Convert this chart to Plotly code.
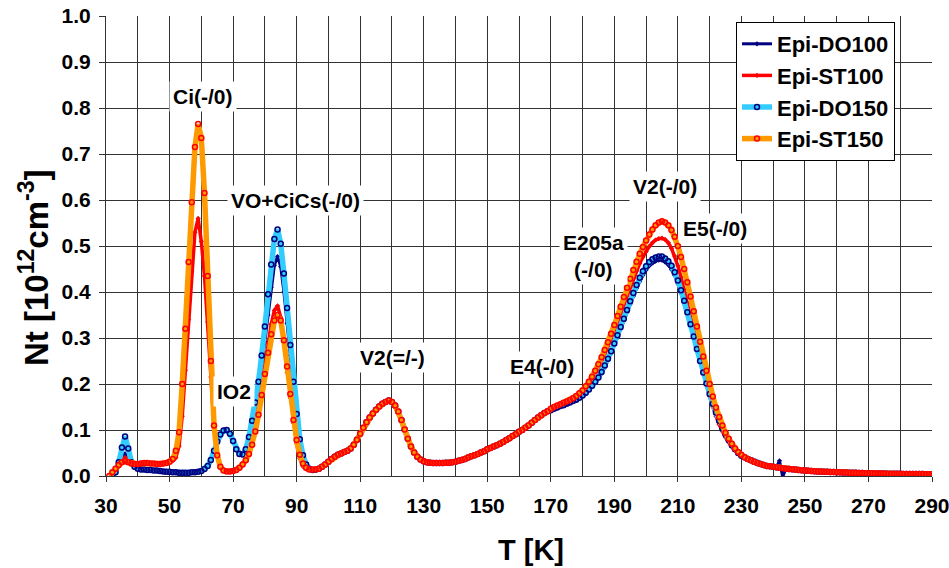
import plotly.graph_objects as go

# Temperature grid [K]
T_LOW = list(range(31, 96))
T_MID = list(range(96, 170))
T_PEAK = list(range(170, 231))
T_TAIL = list(range(231, 291))
T = T_LOW + T_MID + T_PEAK + T_TAIL

# ---- Nt [1e12 cm^-3], 31..95 K (Ci, IO2, VO+CiCs region) ----
do100_low = [None, 0.000, 0.008, 0.020, 0.038, 0.048, 0.040, 0.025, 0.018, 0.015,
             0.014, 0.014, 0.013, 0.013, 0.012, 0.012, 0.011, 0.010, 0.009, 0.009,
             0.008, 0.008, 0.007, 0.007, 0.007, 0.007, 0.008, 0.008, 0.009, 0.011,
             0.015, 0.022, 0.035, 0.055, 0.075, 0.090, 0.099, 0.100, 0.092, 0.076,
             0.058, 0.048, 0.047, 0.057, 0.083, 0.115, 0.150, 0.190, 0.238, 0.292,
             0.350, 0.410, 0.458, 0.477, 0.455, 0.400, 0.332, 0.262, 0.190, 0.126,
             0.076, 0.043, 0.024, 0.015, 0.012]
st100_low = [None, 0.005, 0.014, 0.025, 0.035, 0.040, 0.036, 0.029, 0.026, 0.026,
             0.028, 0.029, 0.029, 0.028, 0.027, 0.026, 0.026, 0.026, 0.027, 0.029,
             0.033, 0.040, 0.065, 0.130, 0.230, 0.340, 0.445, 0.530, 0.560, 0.510,
             0.435, 0.335, 0.215, 0.110, 0.048, 0.022, 0.013, 0.011, 0.010, 0.011,
             0.014, 0.020, 0.027, 0.036, 0.052, 0.074, 0.105, 0.143, 0.190, 0.238,
             0.288, 0.330, 0.360, 0.370, 0.345, 0.290, 0.225, 0.170, 0.115, 0.070,
             0.038, 0.021, 0.015, 0.013, 0.013]
do150_low = [None, 0.000, 0.008, 0.030, 0.062, 0.086, 0.060, 0.030, 0.020, 0.016,
             0.014, 0.014, 0.013, 0.013, 0.012, 0.012, 0.011, 0.010, 0.009, 0.009,
             0.008, 0.008, 0.007, 0.007, 0.007, 0.007, 0.008, 0.008, 0.009, 0.011,
             0.015, 0.022, 0.035, 0.055, 0.075, 0.090, 0.099, 0.100, 0.092, 0.076,
             0.058, 0.048, 0.047, 0.058, 0.085, 0.120, 0.160, 0.205, 0.262, 0.325,
             0.395, 0.460, 0.515, 0.536, 0.505, 0.440, 0.365, 0.285, 0.205, 0.135,
             0.080, 0.045, 0.025, 0.016, 0.013]
st150_low = [0.000, 0.008, 0.016, 0.024, 0.030, 0.032, 0.030, 0.027, 0.026, 0.026,
             0.027, 0.028, 0.028, 0.027, 0.027, 0.026, 0.026, 0.027, 0.028, 0.031,
             0.037, 0.055, 0.095, 0.200, 0.320, 0.465, 0.595, 0.715, 0.765, 0.735,
             0.615, 0.435, 0.250, 0.110, 0.045, 0.020, 0.012, 0.010, 0.010, 0.011,
             0.013, 0.018, 0.025, 0.034, 0.048, 0.068, 0.097, 0.133, 0.176, 0.222,
             0.268, 0.308, 0.338, 0.350, 0.338, 0.295, 0.238, 0.178, 0.122, 0.078,
             0.046, 0.027, 0.018, 0.014, 0.014]

# ---- 96..169 K: V2(=/-) and E4 region, identical for all samples ----
common_mid = [0.014, 0.016, 0.020, 0.025, 0.031, 0.037, 0.042, 0.046, 0.049, 0.052,
              0.055, 0.060, 0.068, 0.079, 0.092, 0.105, 0.117, 0.127, 0.136, 0.144,
              0.151, 0.157, 0.161, 0.164, 0.161, 0.153, 0.140, 0.122, 0.101, 0.081,
              0.064, 0.051, 0.042, 0.036, 0.032, 0.030, 0.029, 0.028, 0.028, 0.028,
              0.028, 0.029, 0.029, 0.030, 0.031, 0.033, 0.035, 0.037, 0.040, 0.043,
              0.045, 0.048, 0.051, 0.054, 0.058, 0.061, 0.064, 0.067, 0.070, 0.074,
              0.078, 0.082, 0.087, 0.091, 0.096, 0.100, 0.105, 0.110, 0.116, 0.122,
              0.127, 0.132, 0.137, 0.141]

# ---- 170..230 K: V2(-/0) / E205a / E5 peak ----
do100_peak = [0.142, 0.145, 0.148, 0.151, 0.153, 0.156, 0.159, 0.162, 0.165, 0.169,
              0.173, 0.179, 0.186, 0.194, 0.203, 0.212, 0.223, 0.236, 0.251, 0.267,
              0.284, 0.301, 0.319, 0.337, 0.356, 0.374, 0.391, 0.408, 0.423, 0.437,
              0.448, 0.457, 0.463, 0.467, 0.469, 0.469, 0.465, 0.459, 0.449, 0.436,
              0.418, 0.398, 0.376, 0.352, 0.327, 0.301, 0.275, 0.249, 0.224, 0.200,
              0.177, 0.156, 0.137, 0.119, 0.103, 0.089, 0.077, 0.066, 0.057, 0.049,
              0.043]
st100_peak = [0.145, 0.149, 0.152, 0.155, 0.158, 0.161, 0.164, 0.168, 0.172, 0.178,
              0.184, 0.192, 0.201, 0.212, 0.224, 0.237, 0.251, 0.266, 0.282, 0.299,
              0.317, 0.335, 0.354, 0.373, 0.392, 0.411, 0.429, 0.446, 0.462, 0.476,
              0.488, 0.499, 0.507, 0.513, 0.516, 0.517, 0.514, 0.507, 0.495, 0.478,
              0.457, 0.432, 0.405, 0.376, 0.346, 0.315, 0.284, 0.254, 0.225, 0.198,
              0.173, 0.150, 0.130, 0.112, 0.097, 0.084, 0.073, 0.063, 0.055, 0.048,
              0.043]
do150_peak = [0.143, 0.146, 0.149, 0.152, 0.154, 0.157, 0.160, 0.163, 0.166, 0.170,
              0.175, 0.181, 0.188, 0.196, 0.205, 0.214, 0.226, 0.240, 0.255, 0.271,
              0.288, 0.306, 0.324, 0.342, 0.361, 0.380, 0.398, 0.415, 0.431, 0.445,
              0.456, 0.465, 0.471, 0.475, 0.477, 0.477, 0.473, 0.467, 0.457, 0.443,
              0.425, 0.404, 0.381, 0.356, 0.330, 0.303, 0.276, 0.250, 0.225, 0.201,
              0.178, 0.157, 0.138, 0.120, 0.104, 0.090, 0.078, 0.067, 0.058, 0.050,
              0.044]
st150_peak = [0.146, 0.150, 0.153, 0.156, 0.159, 0.162, 0.165, 0.169, 0.174, 0.180,
              0.186, 0.195, 0.205, 0.216, 0.229, 0.243, 0.258, 0.274, 0.291, 0.309,
              0.328, 0.348, 0.368, 0.389, 0.409, 0.429, 0.448, 0.466, 0.483, 0.498,
              0.512, 0.525, 0.536, 0.545, 0.551, 0.554, 0.551, 0.545, 0.535, 0.520,
              0.500, 0.476, 0.450, 0.421, 0.390, 0.358, 0.325, 0.292, 0.260, 0.229,
              0.200, 0.173, 0.149, 0.128, 0.110, 0.094, 0.081, 0.070, 0.060, 0.052,
              0.046]

# ---- 231..290 K: high-temperature tail, identical for all samples ----
common_tail = [0.041, 0.037, 0.034, 0.031, 0.028, 0.026, 0.024, 0.022, 0.021, 0.020,
               0.019, 0.018, 0.017, 0.016, 0.015, 0.0145, 0.014, 0.013, 0.0125, 0.012,
               0.0115, 0.011, 0.0105, 0.010, 0.0097, 0.0094, 0.0091, 0.0088, 0.0085, 0.0082,
               0.0079, 0.0077, 0.0074, 0.0072, 0.0070, 0.0068, 0.0066, 0.0064, 0.0062, 0.0060,
               0.0058, 0.0057, 0.0055, 0.0054, 0.0052, 0.0051, 0.0050, 0.0049, 0.0048, 0.0047,
               0.0046, 0.0045, 0.0044, 0.0043, 0.0042, 0.0041, 0.0041, 0.0040, 0.0040, 0.0039]

# measurement glitch in the Epi-DO100 spectrum (T -> Nt)
do100_glitch = {242: 0.033, 243: -0.002}

do100_tail = [do100_glitch.get(t, v) for t, v in zip(T_TAIL, common_tail)]

series = [
    ("Epi-DO100", do100_low + common_mid + do100_peak + do100_tail,
     dict(color="#000080", width=3), dict(symbol="diamond", size=4, color="#000080")),
    ("Epi-ST100", st100_low + common_mid + st100_peak + common_tail,
     dict(color="#FF0000", width=3.5), dict(symbol="diamond", size=4, color="#FF0000")),
    ("Epi-DO150", do150_low + common_mid + do150_peak + common_tail,
     dict(color="#33CCFF", width=5.5),
     dict(symbol="circle-open", size=5, color="#000080", line=dict(width=1.5))),
    ("Epi-ST150", st150_low + common_mid + st150_peak + common_tail,
     dict(color="#FF9900", width=5.5),
     dict(symbol="circle-open", size=5, color="#FF0000", line=dict(width=1.5))),
]

fig = go.Figure()
for name, values, line, marker in series:
    fig.add_trace(go.Scatter(x=T, y=values, name=name, mode="lines+markers",
                             line=line, marker=marker))

# peak assignments: (text, T, Nt)
labels = [
    ("Ci(-/0)", 60.5, 0.826),
    ("VO+CiCs(-/0)", 89.5, 0.598),
    ("IO2", 70.3, 0.183),
    ("V2(=/-)", 120.3, 0.257),
    ("E4(-/0)", 167.2, 0.237),
    ("E205a<br>(-/0)", 183.3, 0.478),
    ("V2(-/0)", 206.0, 0.630),
    ("E5(-/0)", 221.7, 0.537),
]
for text, tx, ty in labels:
    fig.add_annotation(x=tx, y=ty, text=text, showarrow=False,
                       font=dict(size=21, weight="bold", color="black"),
                       bgcolor="white", borderpad=3)

# axis titles
fig.add_annotation(text="T [K]", xref="paper", yref="paper",
                   x=(531 - 106) / 826, y=(476 - 550) / 460,
                   xanchor="center", yanchor="middle", showarrow=False,
                   font=dict(size=29, weight="bold", color="black"))
fig.add_annotation(text="Nt [10<sup>12</sup>cm<sup>-3</sup>]", xref="paper", yref="paper",
                   x=(34 - 106) / 826, y=(476 - 268) / 460, textangle=-90,
                   xanchor="center", yanchor="middle", showarrow=False,
                   font=dict(size=33, weight="bold", color="black"))

grid = "#333333"
fig.update_layout(
    width=949, height=568,
    margin=dict(l=106, r=17, t=16, b=92, autoexpand=False),
    plot_bgcolor="white", paper_bgcolor="white",
    font=dict(family="Liberation Sans, Arial, sans-serif", color="black"),
    showlegend=True,
    legend=dict(x=(736 - 106) / 826, y=(476 - 22) / 460, xanchor="left", yanchor="top",
                bgcolor="white", bordercolor="black", borderwidth=1,
                font=dict(size=22, weight="bold"), tracegroupgap=0),
    xaxis=dict(range=[30, 290], tick0=30, dtick=20, ticks="outside", ticklen=5,
               tickcolor=grid, showline=True, linecolor=grid, linewidth=1,
               showgrid=True, gridcolor=grid, gridwidth=1, zeroline=False,
               minor=dict(tick0=30, dtick=10, showgrid=True, gridcolor=grid, gridwidth=1),
               tickfont=dict(size=21, weight="bold"), ticklabelstandoff=6,
               ticklabeloverflow="allow", automargin=False),
    yaxis=dict(range=[0, 1.0], dtick=0.1, tickformat=".1f", ticks="outside", ticklen=6,
               tickcolor=grid, showline=True, linecolor=grid, linewidth=1,
               showgrid=True, gridcolor=grid, gridwidth=1, zeroline=False,
               tickfont=dict(size=21, weight="bold"), ticklabelstandoff=4,
               ticklabeloverflow="allow", automargin=False),
)

fig.write_html("out.html")
